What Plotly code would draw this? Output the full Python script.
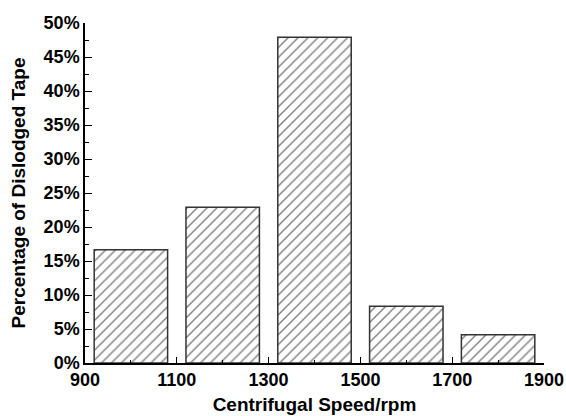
import plotly.graph_objects as go

speeds = [1000, 1200, 1400, 1600, 1800]
percent = [16.67, 22.92, 47.92, 8.33, 4.17]
x_ticks = [900, 1100, 1300, 1500, 1700, 1900]
x_minor = [1000, 1200, 1400, 1600, 1800]
y_ticks = [0, 5, 10, 15, 20, 25, 30, 35, 40, 45, 50]
y_labels = [f"<b>{v}%</b>" for v in y_ticks]
x_labels = [f"<b>{v}</b>" for v in x_ticks]

font = "Liberation Sans, Arial, sans-serif"

fig = go.Figure(go.Bar(
    x=speeds, y=percent, width=160,
    marker=dict(color="white",
                line=dict(color="#333", width=1.5),
                pattern=dict(shape="/", fgcolor="black", bgcolor="white",
                             size=7, solidity=0.2)),
))

fig.update_layout(
    width=566, height=416,
    margin=dict(l=85, r=22, t=23, b=53),
    plot_bgcolor="white", paper_bgcolor="white",
    showlegend=False,
    font=dict(family=font, color="black"),
    xaxis=dict(range=[900, 1900], tickvals=x_ticks, ticktext=x_labels,
               ticks="inside", ticklen=6,
               tickwidth=1.2, tickcolor="black", showline=True, linecolor="black",
               linewidth=1.5, showgrid=False, zeroline=False, automargin=False,
               tickfont=dict(size=18, family=font),
               minor=dict(tickvals=x_minor, ticks="inside",
                          ticklen=3, tickcolor="black", tickwidth=1.2),
               title=dict(text="<b>Centrifugal Speed/rpm</b>", font=dict(size=19), standoff=8)),
    yaxis=dict(range=[0, 50], tickvals=y_ticks, ticktext=y_labels,
               ticks="inside", ticklen=7,
               tickwidth=1.2, tickcolor="black", showline=True, linecolor="black",
               linewidth=1.5, showgrid=False, zeroline=False, automargin=False,
               tickfont=dict(size=18, family=font),
               minor=dict(dtick=2.5, ticks="inside", ticklen=4, tickcolor="black", tickwidth=1.2),
               title=dict(text="<b>Percentage of Dislodged Tape</b>", font=dict(size=19), standoff=13)),
)

fig.write_html("out.html", config={"displayModeBar": False},
               post_script="document.body.style.margin='0';document.body.style.overflow='hidden';")
